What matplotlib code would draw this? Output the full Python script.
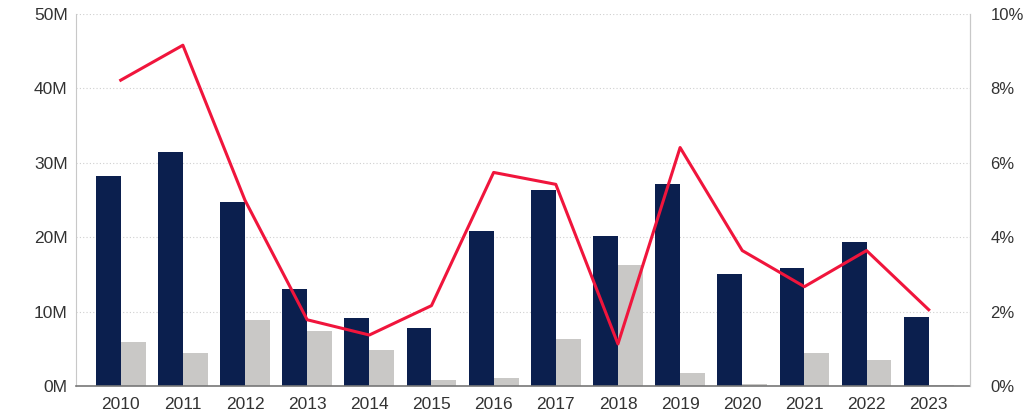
import matplotlib
matplotlib.use("Agg")
import matplotlib.pyplot as plt
import numpy as np
from matplotlib.ticker import FuncFormatter

# data
years = ["2010", "2011", "2012", "2013", "2014", "2015", "2016",
         "2017", "2018", "2019", "2020", "2021", "2022", "2023"]
navy_vals = [28.2, 31.5, 24.7, 13.1, 9.2, 7.8, 20.8, 26.4, 20.2, 27.1, 15.0, 15.8, 19.4, 9.3]
gray_vals = [5.9, 4.4, 8.9, 7.4, 4.9, 0.8, 1.1, 6.3, 16.2, 1.8, 0.3, 4.4, 3.5, 0.1]
rate_pct = [8.22, 9.16, 4.99, 1.78, 1.37, 2.16, 5.74, 5.42, 1.13, 6.41, 3.64, 2.67, 3.64, 2.05]

NAVY = "#0b1f4e"
GRAY = "#c9c8c6"
RED = "#f0153c"
TXT = "#333333"

plt.rcParams["font.family"] = ["Liberation Sans", "DejaVu Sans"]

fig = plt.figure(figsize=(10.24, 4.18), dpi=100)
ax = fig.add_axes([0.0742, 0.0766, 0.8728, 0.89])

x = np.arange(len(years))
w = 0.4
ax.bar(x - w / 2, navy_vals, width=w, color=NAVY, zorder=2)
ax.bar(x + w / 2, gray_vals, width=w, color=GRAY, zorder=2)

ax.set_ylim(0, 50)
ax.set_xlim(-0.72, 13.66)
ax.set_yticks([0, 10, 20, 30, 40, 50])
ax.yaxis.set_major_formatter(FuncFormatter(lambda v, p: f"{int(v)}M"))
ax.set_xticks(x)
ax.set_xticklabels(years)

# dotted gridlines
for v in [10, 20, 30, 40, 50]:
    ax.axhline(v, color="#cfcfcf", lw=0.8, ls=(0, (1, 2)), zorder=0)

ax.spines["top"].set_visible(False)
ax.spines["left"].set_color("#c8c8c8")
ax.spines["right"].set_color("#c8c8c8")
ax.spines["bottom"].set_color("#777777")
ax.spines["bottom"].set_linewidth(1.2)
ax.tick_params(axis="both", length=0, labelsize=12.5, colors=TXT)
ax.tick_params(axis="x", pad=8)
ax.tick_params(axis="y", pad=6)

ax2 = ax.twinx()
ax2.plot(x, rate_pct, color=RED, lw=2.2, zorder=3)
ax2.set_ylim(0, 10)
ax2.set_yticks([0, 2, 4, 6, 8, 10])
ax2.yaxis.set_major_formatter(FuncFormatter(lambda v, p: f"{int(v)}%"))
ax2.tick_params(axis="y", length=0, labelsize=12, colors=TXT, pad=15)
for s in ["top", "left", "bottom"]:
    ax2.spines[s].set_visible(False)
ax2.spines["right"].set_color("#c8c8c8")

fig.savefig("out.png", dpi=100)
